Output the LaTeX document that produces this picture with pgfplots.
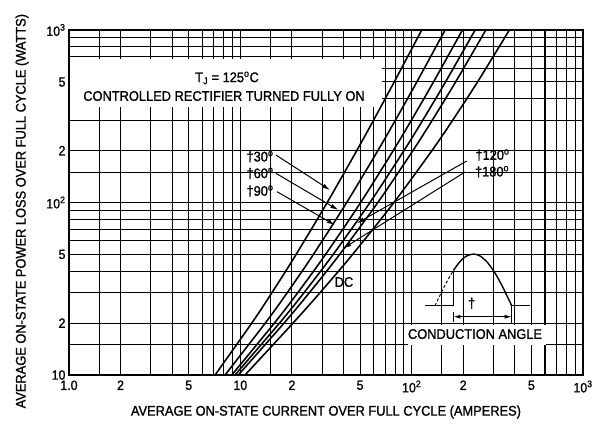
\documentclass[border=0pt]{standalone}
\usepackage{fontspec}
\setmainfont{Liberation Sans}[FakeBold=1.2,FakeStretch=0.92]
\usepackage{pgfplots}
\pgfplotsset{compat=1.18}
\usetikzlibrary{arrows.meta}

\begin{document}
\begin{tikzpicture}
\begin{axis}[
  xmode=log, ymode=log,
  xmin=1, xmax=1000, ymin=10, ymax=1000,
  scale only axis, width=514bp, height=345bp,
  xtick={1,2,5,10,20,50,100,200,500,1000},
  xticklabels={1.0,2,5,10,2,5,10\textsuperscript{2},2,5,10\textsuperscript{3}},
  minor xtick={1.5,3,4,6,7,8,9,15,30,40,60,70,80,90,150,300,400,600,700,800,900},
  ytick={10,20,50,100,200,500,1000},
  yticklabels={10,2,5,10\textsuperscript{2},2,5,10\textsuperscript{3}},
  minor ytick={15,30,40,60,70,80,90,150,300,400,600,700,800,900},
  grid=both,
  major grid style={black,line width=1.1pt},
  minor grid style={black,line width=1.1pt},
  axis line style={black,line width=1.2pt},
  major tick length=0pt, minor tick length=0pt,
  tick label style={font=\fontsize{13.5}{15}\selectfont},
  xticklabel style={yshift=-2bp},
  xlabel={AVERAGE ON-STATE CURRENT OVER FULL CYCLE (AMPERES)},
  ylabel={AVERAGE ON-STATE POWER LOSS OVER FULL CYCLE (WATTS)},
  label style={font=\fontsize{14}{16}\selectfont},
  xlabel style={at={(axis description cs:0.5,-0.1072)},anchor=center},
  ylabel style={at={(axis description cs:-0.0914,0.475)},anchor=center},
]
\coordinate (BL) at (rel axis cs:-0.1342,-0.1478);
\coordinate (TR) at (rel axis cs:1.0389,1.087);

% white label boxes
\fill[white] (rel axis cs:0.002,0.777) rectangle (rel axis cs:0.609,0.917);
\fill[white] (rel axis cs:0.6595,0.088) rectangle (rel axis cs:0.928,0.144);

\node[anchor=center,font=\fontsize{14}{16}\selectfont] at (rel axis cs:0.3074,0.8609) {T\textsubscript{J} = 125\textsuperscript{o}C};
\node[anchor=center,font=\fontsize{14}{16}\selectfont] at (rel axis cs:0.3016,0.8087) {CONTROLLED RECTIFIER TURNED FULLY ON};

% curves
\addplot[black,line width=1.6pt,smooth] coordinates {(7.12,10) (11.66,20) (15.29,30) (21.16,50) (32.13,100) (47.82,200) (59.91,300) (79.12,500) (114.5,1000)};
\addplot[black,line width=1.6pt,smooth] coordinates {(8.14,10) (13.98,20) (18.78,30) (26.70,50) (41.76,100) (63.51,200) (80.35,300) (107.2,500) (156.7,1000)};
\addplot[black,line width=1.6pt,smooth] coordinates {(8.91,10) (15.80,20) (21.63,30) (31.42,50) (50.37,100) (78.06,200) (99.63,300) (134.1,500) (197.8,1000)};
\addplot[black,line width=1.6pt,smooth] coordinates {(9.31,10) (16.92,20) (23.53,30) (34.84,50) (57.12,100) (90.16,200) (116.1,300) (157.6,500) (234.6,1000)};
\addplot[black,line width=1.6pt,smooth] coordinates {(9.73,10) (17.99,20) (25.28,30) (37.99,50) (63.45,100) (101.7,200) (131.9,300) (180.5,500) (270.8,1000)};
\addplot[black,line width=1.6pt,smooth] coordinates {(10.65,10) (20.29,20) (29.17,30) (45.19,50) (78.78,100) (131.3,200) (173.5,300) (242.4,500) (371.8,1000)};

% curve labels
\tikzset{lbl/.style={anchor=center,font=\fontsize{14}{16}\selectfont,inner sep=1pt}}
\node[lbl] at (rel axis cs:0.3716,0.6328) {\char"2020 30\textsuperscript{o}};
\node[lbl] at (rel axis cs:0.3716,0.5846) {\char"2020 60\textsuperscript{o}};
\node[lbl] at (rel axis cs:0.3716,0.5333) {\char"2020 90\textsuperscript{o}};
\node[lbl] at (rel axis cs:0.8239,0.6377) {\char"2020 120\textsuperscript{o}};
\node[lbl] at (rel axis cs:0.8230,0.5893) {\char"2020 180\textsuperscript{o}};
\node[lbl] at (rel axis cs:0.535,0.2696) {DC};

\tikzset{arr/.style={black,line width=1pt,-{Latex[length=8pt,width=4.5pt]}}}
\draw[arr] (rel axis cs:0.4027,0.6377) -- (rel axis cs:0.5078,0.5362);
\draw[arr] (rel axis cs:0.4027,0.5846) -- (rel axis cs:0.5239,0.4783);
\draw[arr] (rel axis cs:0.4047,0.5313) -- (rel axis cs:0.5175,0.4348);
\draw[arr] (rel axis cs:0.7737,0.6203) -- (rel axis cs:0.5597,0.4397);
\draw[arr] (rel axis cs:0.7704,0.5884) -- (rel axis cs:0.5337,0.3672);

% inset waveform
\draw[black,line width=1.4pt] (rel axis cs:0.6926,0.2009) -- (rel axis cs:0.7477,0.2009) -- (rel axis cs:0.7477,0.3029);
\draw[black,line width=1.4pt] plot[smooth] coordinates {(rel axis cs:0.7477,0.3029) (rel axis cs:0.7607,0.3290) (rel axis cs:0.7724,0.3441) (rel axis cs:0.7868,0.3507) (rel axis cs:0.7996,0.3452) (rel axis cs:0.8132,0.3278) (rel axis cs:0.8268,0.3003) (rel axis cs:0.8405,0.2646) (rel axis cs:0.8521,0.2296) (rel axis cs:0.8613,0.2009)};
\draw[black,line width=1.4pt] (rel axis cs:0.8613,0.2009) -- (rel axis cs:0.8969,0.2009);
\draw[black,line width=0.9pt,dash pattern=on 3pt off 2pt] plot[smooth] coordinates {(rel axis cs:0.7121,0.2009) (rel axis cs:0.7218,0.2313) (rel axis cs:0.7335,0.2661) (rel axis cs:0.7477,0.3029)};
\draw[black,line width=1pt,{Latex[length=7pt,width=4pt]}-{Latex[length=7pt,width=4pt]}] (rel axis cs:0.7477,0.169) -- (rel axis cs:0.8613,0.169);
\draw[black,line width=1pt] (rel axis cs:0.7477,0.155) -- (rel axis cs:0.7477,0.183);
\draw[black,line width=1pt] (rel axis cs:0.8613,0.150) -- (rel axis cs:0.8613,0.200);
\node[lbl] at (rel axis cs:0.7834,0.2078) {\char"2020};
\node[lbl] at (rel axis cs:0.7899,0.1188) {CONDUCTION ANGLE};
\end{axis}
\pgfresetboundingbox
\path (BL) rectangle (TR);
\end{tikzpicture}
\end{document}
